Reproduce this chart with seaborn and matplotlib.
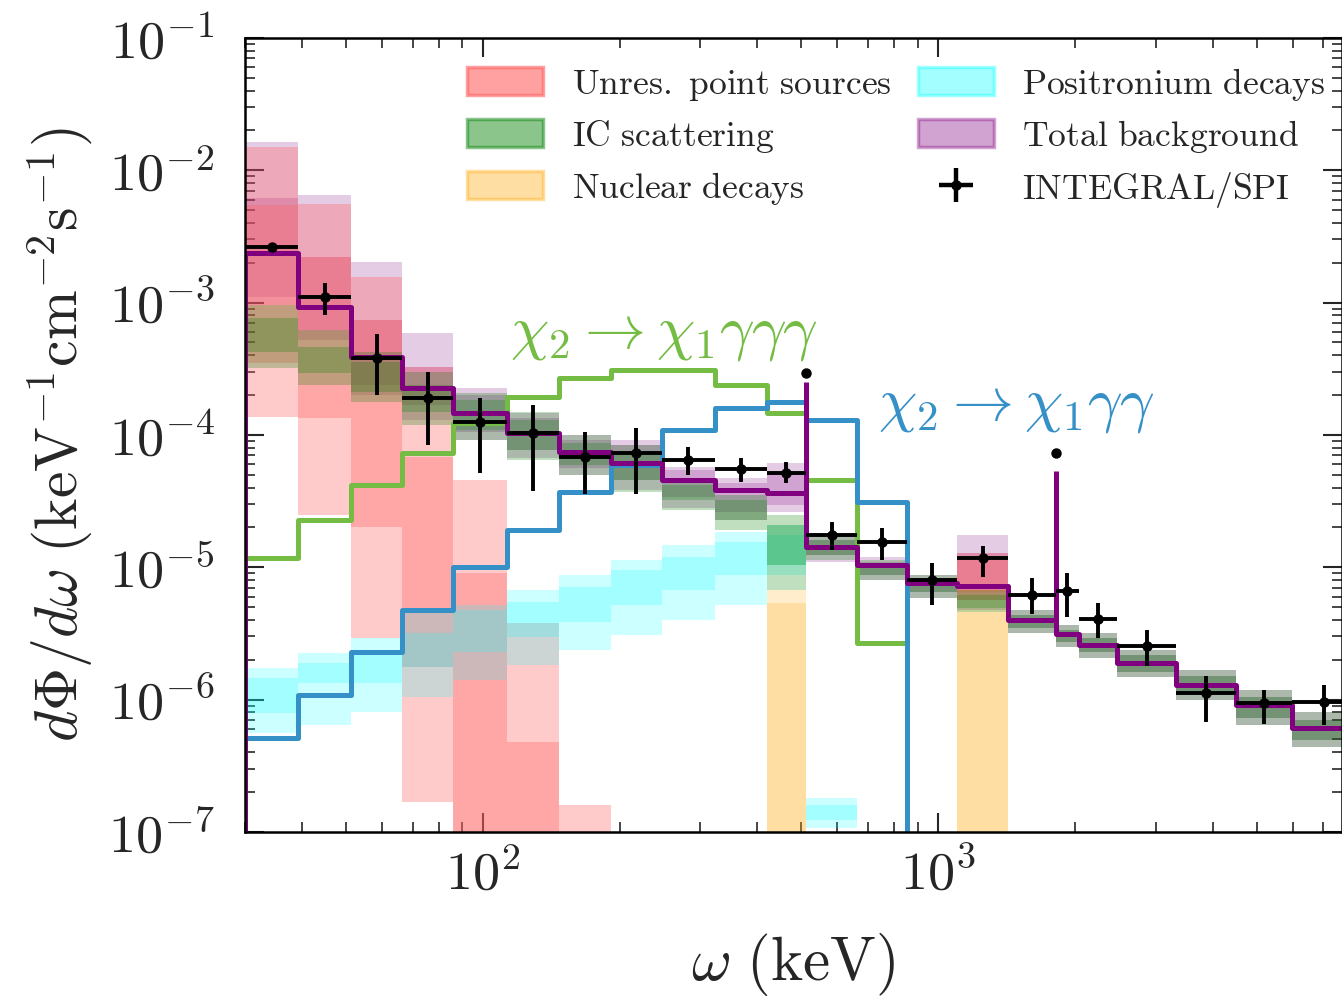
import numpy as np
import matplotlib
matplotlib.use("Agg")
import matplotlib.pyplot as plt
import seaborn as sns
from matplotlib.patches import Patch
from matplotlib.lines import Line2D
from matplotlib.ticker import FuncFormatter, LogLocator, NullFormatter

# ---------------- data ----------------
N = 1e-12  # "nothing" / below the axis

bin_edges = [30, 39.3, 51.3, 66.4, 85.9, 112.9, 146.8, 190.9, 246.9, 322.7, 419.7,
             511, 664, 855, 1101, 1424, 1809, 2038, 2469, 3326, 4503, 5974, 8260]

# INTEGRAL/SPI data
spi_flux = [2.63e-3, 1.10e-3, 3.81e-4, 1.90e-4, 1.25e-4, 1.03e-4, 6.8e-5, 7.3e-5, 6.5e-5,
            5.5e-5, 5.2e-5, 1.75e-5, 1.55e-5, 8.0e-6, 1.17e-5, 6.2e-6, 6.6e-6, 4.06e-6,
            2.53e-6, 1.12e-6, 9.4e-7, 9.6e-7]
spi_low = [2.5e-3, 8.1e-4, 2.0e-4, 8.4e-5, 5.2e-5, 3.8e-5, 3.6e-5, 3.6e-5, 5.0e-5,
           4.4e-5, 4.3e-5, 1.35e-5, 1.13e-5, 5.2e-6, 8.4e-6, 4.4e-6, 4.2e-6, 2.9e-6,
           1.79e-6, 6.8e-7, 6.6e-7, 6.4e-7]
spi_high = [2.75e-3, 1.41e-3, 5.8e-4, 2.99e-4, 1.90e-4, 1.68e-4, 1.05e-4, 1.13e-4, 8.1e-5,
            6.7e-5, 6.2e-5, 2.2e-5, 1.98e-5, 1.08e-5, 1.45e-5, 8.3e-6, 9.0e-6, 5.4e-6,
            3.35e-6, 1.51e-6, 1.18e-6, 1.29e-6]
line_energy = [511, 1809]
line_flux = [2.94e-4, 7.3e-5]
line_model_peak = [2.5e-4, 5.3e-5]

# total background (central)
total_bkg = [2.37e-3, 9.3e-4, 3.88e-4, 2.26e-4, 1.46e-4, 1.03e-4, 7.4e-5, 6.14e-5, 4.56e-5,
             3.84e-5, 3.64e-5, 1.42e-5, 1.04e-5, 7.6e-6, 7.2e-6, 3.99e-6, 3.13e-6, 2.58e-6,
             1.89e-6, 1.29e-6, 9.1e-7, 6.09e-7]

# signals
sig_3gamma = [1.17e-5, 2.27e-5, 4.18e-5, 7.3e-5, 1.23e-4, 1.93e-4, 2.69e-4, 3.10e-4, 3.10e-4,
              2.38e-4, 1.46e-4, 4.56e-5, 2.67e-6, N, N, N, N, N, N, N, N, N]
sig_2gamma = [5.12e-7, 1.08e-6, 2.29e-6, 4.75e-6, 1.00e-5, 1.91e-5, 3.70e-5, 5.93e-5, 1.09e-4,
              1.60e-4, 1.77e-4, 1.30e-4, 3.11e-5, N, N, N, N, N, N, N, N, N]

# bands: outer_hi, inner_hi, inner_lo, outer_lo
ups_outer_hi = [1.50e-2, 5.56e-3, 1.56e-3, 3.26e-4, 4.56e-5, 3.79e-6, 1.59e-7, N, N, N, N,
                N, N, N, 1.28e-5, N, N, N, N, N, N, N]
ups_inner_hi = [5.47e-3, 2.21e-3, 7.4e-4, 6.8e-5, 9.0e-6, 4.77e-7, N, N, N, N, N,
                N, N, N, 1.13e-5, N, N, N, N, N, N, N]
ups_inner_lo = [3.49e-4, 1.34e-4, 2.01e-5, 1.76e-6, N, N, N, N, N, N, N,
                N, N, N, 6.5e-6, N, N, N, N, N, N, N]
ups_outer_lo = [1.37e-4, 2.48e-5, 2.92e-6, 1.68e-7, N, N, N, N, N, N, N,
                N, N, N, 5.65e-6, N, N, N, N, N, N, N]

ic_outer_hi = [9.6e-4, 6.2e-4, 4.24e-4, 2.99e-4, 2.07e-4, 1.49e-4, 9.98e-5, 8.4e-5, 4.56e-5,
               3.52e-5, 2.48e-5, 1.75e-5, 1.13e-5, 8.7e-6, 6.7e-6, 4.75e-6, 3.66e-6, 3.18e-6,
               2.37e-6, 1.67e-6, 1.18e-6, 8.05e-7]
ic_inner_hi = [7.65e-4, 4.6e-4, 3.56e-4, 2.38e-4, 1.84e-4, 1.30e-4, 8.7e-5, 7.05e-5, 4.18e-5,
               3.22e-5, 2.08e-5, 1.61e-5, 1.04e-5, 8.0e-6, 6.2e-6, 4.35e-6, 3.35e-6, 2.92e-6,
               2.17e-6, 1.51e-6, 1.04e-6, 7.0e-7]
ic_inner_lo = [4.24e-4, 2.94e-4, 2.11e-4, 1.49e-4, 1.09e-4, 7.7e-5, 5.93e-5, 4.56e-5, 3.22e-5,
               2.27e-5, 1.04e-5, 1.24e-5, 8.7e-6, 6.5e-6, 4.92e-6, 3.47e-6, 2.72e-6, 2.29e-6,
               1.61e-6, 1.10e-6, 7.25e-7, 4.94e-7]
ic_outer_lo = [3.21e-4, 2.38e-4, 1.77e-4, 1.19e-4, 9.15e-5, 6.46e-5, 4.98e-5, 3.70e-5, 2.70e-5,
               1.91e-5, 6.7e-6, 1.13e-5, 8.0e-6, 5.85e-6, 4.58e-6, 3.18e-6, 2.49e-6, 2.06e-6,
               1.48e-6, 9.9e-7, 6.41e-7, 4.38e-7]

nuc_outer_hi = [N, N, N, N, N, N, N, N, N, N, 6.7e-6, N, N, N, 6.7e-6, N, N, N, N, N, N, N]
nuc_inner_hi = [N, N, N, N, N, N, N, N, N, N, 5.36e-6, N, N, N, 4.58e-6, N, N, N, N, N, N, N]
nuc_inner_lo = [N] * 22
nuc_outer_lo = [N] * 22

pos_outer_hi = [1.73e-6, 2.25e-6, 2.92e-6, 4.51e-6, 5.18e-6, 6.7e-6, 8.7e-6, 1.13e-5, 1.47e-5,
                1.85e-5, 2.08e-5, 1.80e-7, N, N, N, N, N, N, N, N, N, N]
pos_inner_hi = [1.46e-6, 1.89e-6, 2.17e-6, 3.18e-6, 4.75e-6, 5.46e-6, 7.1e-6, 9.5e-6, 1.19e-5,
                1.55e-5, 1.75e-5, 1.59e-7, N, N, N, N, N, N, N, N, N, N]
pos_inner_lo = [7.9e-7, 1.33e-6, 1.33e-6, 1.76e-6, 2.29e-6, 2.97e-6, 3.85e-6, 5.18e-6, 6.7e-6,
                8.7e-6, 1.04e-5, 1.23e-7, N, N, N, N, N, N, N, N, N, N]
pos_outer_lo = [5.58e-7, 6.41e-7, 8.05e-7, 1.04e-6, 1.40e-6, 1.82e-6, 2.37e-6, 3.07e-6, 3.99e-6,
                5.18e-6, 8.7e-6, 1.07e-7, N, N, N, N, N, N, N, N, N, N]

tot_outer_hi = [1.64e-2, 6.5e-3, 2.03e-3, 5.9e-4, 2.26e-4, 1.46e-4, 9.98e-5, 9.15e-5, 5.72e-5,
                4.72e-5, 6.14e-5, 1.81e-5, 1.19e-5, 8.7e-6, 1.75e-5, 4.75e-6, 3.66e-6, 3.18e-6,
                2.37e-6, 1.67e-6, 1.18e-6, 8.05e-7]
tot_inner_hi = [6.18e-3, 2.21e-3, 7.4e-4, 3.26e-4, 2.0e-4, 1.34e-4, 9.15e-5, 8.4e-5, 5.43e-5,
                4.33e-5, 5.15e-5, 1.61e-5, 1.09e-5, 8.3e-6, 1.28e-5, 4.35e-6, 3.35e-6, 2.92e-6,
                2.17e-6, 1.51e-6, 1.04e-6, 7.0e-7]
tot_inner_lo = [1.10e-3, 6.2e-4, 2.38e-4, 1.68e-4, 1.05e-4, 7.7e-5, 5.62e-5, 4.56e-5, 3.40e-5,
                2.61e-5, 2.95e-5, 1.24e-5, 8.7e-6, 6.5e-6, 5.65e-6, 3.47e-6, 2.72e-6, 2.29e-6,
                1.61e-6, 1.10e-6, 7.25e-7, 4.94e-7]
tot_outer_lo = [9.6e-4, 5.2e-4, 2.0e-4, 1.30e-4, 9.15e-5, 6.7e-5, 4.98e-5, 3.84e-5, 2.80e-5,
                2.27e-5, 2.61e-5, 1.09e-5, 8.0e-6, 5.85e-6, 4.75e-6, 3.18e-6, 2.49e-6, 2.06e-6,
                1.48e-6, 9.9e-7, 6.41e-7, 4.38e-7]

labels = ["Unres. point sources", "IC scattering", "Nuclear decays",
          "Positronium decays", "Total background", "INTEGRAL/SPI"]

# ---------------- style ----------------
sns.set_style("ticks")
plt.rcParams.update({
    "font.family": ["DejaVu Serif"],
    "mathtext.fontset": "cm",
    "axes.linewidth": 1.8,
    "xtick.direction": "in", "ytick.direction": "in",
    "xtick.top": True, "ytick.right": True,
})

C_RED, C_GREEN, C_ORANGE, C_CYAN, C_PURPLE = "#ff6060", "#008000", "#ffa500", "#00ffff", "#800080"
A = {C_RED: 0.33, C_GREEN: 0.25, C_ORANGE: 0.2, C_CYAN: 0.2, C_PURPLE: 0.2}
C_SIG3, C_SIG2 = "#74bc43", "#3690c8"

fig = plt.figure(figsize=(13.42, 9.96), dpi=100)
ax = fig.add_axes([0.1826, 0.1647, 0.8174, 0.7972])
ax.set_xscale("log")
ax.set_yscale("log")

edges = np.array(bin_edges)


def ext(v):
    v = np.asarray(v, dtype=float)
    return np.append(v, v[-1])


def band(outer_hi, inner_hi, inner_lo, outer_lo, color):
    ax.fill_between(edges, ext(outer_lo), ext(outer_hi), step="post", color=color,
                    alpha=A[color], lw=0)
    ax.fill_between(edges, ext(inner_lo), ext(inner_hi), step="post", color=color,
                    alpha=A[color], lw=0)


band(tot_outer_hi, tot_inner_hi, tot_inner_lo, tot_outer_lo, C_PURPLE)
band(ups_outer_hi, ups_inner_hi, ups_inner_lo, ups_outer_lo, C_RED)
band(pos_outer_hi, pos_inner_hi, pos_inner_lo, pos_outer_lo, C_CYAN)
band(nuc_outer_hi, nuc_inner_hi, nuc_inner_lo, nuc_outer_lo, C_ORANGE)
band(ic_outer_hi, ic_inner_hi, ic_inner_lo, ic_outer_lo, C_GREEN)


def step_line(values, color, lw, from_floor=False):
    xs = list(edges)
    ys = list(ext(values))
    if from_floor:
        xs = [edges[0]] + xs
        ys = [N] + ys
    sns.lineplot(x=xs, y=ys, drawstyle="steps-post", color=color, lw=lw,
                 estimator=None, sort=False, ax=ax, legend=False)


step_line(sig_3gamma, C_SIG3, 3.6)
step_line(sig_2gamma, C_SIG2, 3.6)
step_line(total_bkg, C_PURPLE, 3.6, from_floor=True)
# narrow line features in the total background
idx = np.searchsorted(edges, line_energy)
ax.vlines(line_energy, [total_bkg[i] for i in idx], line_model_peak, color=C_PURPLE, lw=3.6)

# data
x_lo = edges[:-1]
x_hi = edges[1:]
x_c = np.sqrt(x_lo * x_hi)
flux = np.array(spi_flux)
ax.errorbar(x_c, flux, xerr=[x_c - x_lo, x_hi - x_c],
            yerr=[flux - np.array(spi_low), np.array(spi_high) - flux],
            fmt="o", color="k", ms=6.5, lw=2.8, capsize=0, zorder=10)
ax.plot(line_energy, line_flux, "o", color="k", ms=6.5, zorder=10)

# axes
ax.set_xlim(30, 7700)
ax.set_ylim(1e-7, 1e-1)
ax.xaxis.set_major_locator(LogLocator(base=10, numticks=10))
ax.xaxis.set_minor_locator(LogLocator(base=10, subs=np.arange(2, 10), numticks=20))
ax.yaxis.set_major_locator(LogLocator(base=10, numticks=10))
ax.yaxis.set_minor_locator(LogLocator(base=10, subs=np.arange(2, 10), numticks=20))
fmt = FuncFormatter(lambda v, p: r"$10^{%d}$" % int(round(np.log10(v))))
ax.xaxis.set_major_formatter(fmt)
ax.yaxis.set_major_formatter(fmt)
ax.xaxis.set_minor_formatter(NullFormatter())
ax.yaxis.set_minor_formatter(NullFormatter())
ax.tick_params(which="major", length=14, width=1.5, labelsize=39)
ax.tick_params(which="minor", length=7, width=1.2)
ax.tick_params(axis="y", which="major", pad=22)
ax.tick_params(axis="x", which="major", pad=12)
for s in ax.spines.values():
    s.set_color("black")

ax.set_xlabel(r"$\omega\ (\mathrm{keV})$", fontsize=44)
ax.set_ylabel(r"$d\Phi/d\omega\ (\mathrm{keV}^{-1}\mathrm{cm}^{-2}\mathrm{s}^{-1})$", fontsize=43)
ax.xaxis.set_label_coords(0.5, -0.125)
ax.yaxis.set_label_coords(-0.137, 0.5)

# annotations
ax.text(114.6, 5.9e-4, r"$\chi_2 \rightarrow \chi_1\gamma\gamma\gamma$", color=C_SIG3,
        fontsize=44, va="center", ha="left")
ax.text(735, 1.68e-4, r"$\chi_2 \rightarrow \chi_1\gamma\gamma$", color=C_SIG2,
        fontsize=44, va="center", ha="left")

# legend
def lpatch(c):
    return Patch(facecolor=c, edgecolor=c, alpha=min(1, A[c] * 1.8), lw=2.5)

data_handle = (Line2D([], [], marker="+", ms=24, mew=3.2, color="k", ls="none"),
               Line2D([], [], marker="o", ms=6.5, color="k", ls="none"))
handles = [lpatch(C_RED), lpatch(C_GREEN), lpatch(C_ORANGE),
           lpatch(C_CYAN), lpatch(C_PURPLE), data_handle]
leg = ax.legend(handles, [r"$\mathrm{%s}$" % l.replace(" ", r"\ ") for l in labels],
                ncol=2, loc="upper left", bbox_to_anchor=(0.2024, 0.965), frameon=False,
                fontsize=25.6, handlelength=2.13, handleheight=0.84, handletextpad=0.81,
                columnspacing=0.75, labelspacing=0.42, borderpad=0, borderaxespad=0)

fig.savefig("out.png", dpi=100)
